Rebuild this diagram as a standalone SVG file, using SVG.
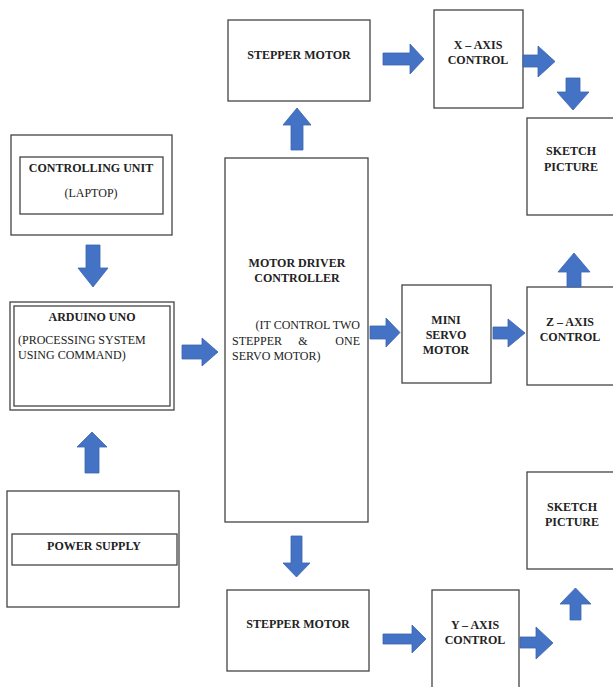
<svg xmlns="http://www.w3.org/2000/svg" width="613" height="687" viewBox="0 0 613 687">
<style>
.box{fill:#fff;stroke:#444;stroke-width:1.3}
.arr{fill:#4472C4;stroke:#3a64b0;stroke-width:0.8}
text{font-family:'Liberation Serif','Times New Roman','DejaVu Serif',serif;font-size:12px;fill:#222}
.b{font-weight:bold;text-anchor:middle}
</style>
<rect width="613" height="687" fill="#fff"/>
<g id="controlling-unit">
<rect class="box" x="11" y="135" width="161" height="100"/>
<rect class="box" x="20" y="157" width="143" height="57"/>
<text class="b" x="91" y="172">CONTROLLING UNIT</text>
<text x="91" y="197" text-anchor="middle">(LAPTOP)</text>
</g>
<g id="arduino-uno">
<rect class="box" x="10" y="302" width="164" height="108"/>
<rect class="box" x="14" y="306" width="156" height="100"/>
<text class="b" x="92" y="321">ARDUINO UNO</text>
<text x="18" y="344">(PROCESSING SYSTEM</text>
<text x="18" y="359">USING COMMAND)</text>
</g>
<g id="power-supply">
<rect class="box" x="7" y="491" width="172" height="116"/>
<rect class="box" x="12" y="534" width="165" height="31"/>
<text class="b" x="94" y="550">POWER SUPPLY</text>
</g>
<g id="motor-driver">
<rect class="box" x="225" y="158" width="143" height="364"/>
<text class="b" x="297" y="267">MOTOR DRIVER</text>
<text class="b" x="297" y="282">CONTROLLER</text>
<text x="360" y="329" text-anchor="end">(IT CONTROL TWO</text>
<text x="232" y="345">STEPPER</text>
<text x="303" y="345" text-anchor="middle">&amp;</text>
<text x="360" y="345" text-anchor="end">ONE</text>
<text x="232" y="360">SERVO MOTOR)</text>
</g>
<g id="stepper-motor-top">
<rect class="box" x="228" y="20" width="142" height="81"/>
<text class="b" x="299" y="59">STEPPER MOTOR</text>
</g>
<g id="x-axis-control">
<rect class="box" x="434" y="10" width="89" height="98"/>
<text class="b" x="478" y="49">X – AXIS</text>
<text class="b" x="478" y="64">CONTROL</text>
</g>
<g id="sketch-picture-top">
<rect class="box" x="527" y="118" width="95" height="97"/>
<text class="b" x="571" y="155">SKETCH</text>
<text class="b" x="571" y="171">PICTURE</text>
</g>
<g id="mini-servo-motor">
<rect class="box" x="402" y="285" width="89" height="98"/>
<text class="b" x="446" y="324">MINI</text>
<text class="b" x="446" y="339">SERVO</text>
<text class="b" x="446" y="354">MOTOR</text>
</g>
<g id="z-axis-control">
<rect class="box" x="527" y="287" width="95" height="98"/>
<text class="b" x="570" y="326">Z – AXIS</text>
<text class="b" x="570" y="341">CONTROL</text>
</g>
<g id="stepper-motor-bottom">
<rect class="box" x="227" y="590" width="142" height="81"/>
<text class="b" x="298" y="628">STEPPER MOTOR</text>
</g>
<g id="y-axis-control">
<rect class="box" x="432" y="590" width="87" height="110"/>
<text class="b" x="475" y="629">Y – AXIS</text>
<text class="b" x="475" y="644">CONTROL</text>
</g>
<g id="sketch-picture-bottom">
<rect class="box" x="527" y="472" width="95" height="97"/>
<text class="b" x="572" y="511">SKETCH</text>
<text class="b" x="572" y="526">PICTURE</text>
</g>
<g id="connectors">
<polygon class="arr" points="86,245 100,245 100,268 108,268 93,287 78,268 86,268"/>
<polygon class="arr" points="85,473 99,473 99,447 107,447 92,432 77,447 85,447"/>
<polygon class="arr" points="182,345 202,345 202,338 218,352 202,366 202,359 182,359"/>
<polygon class="arr" points="291,150 303,150 303,125 311,125 297,108 283,125 291,125"/>
<polygon class="arr" points="291,536 302,536 302,563 310,563 296.5,577 283,563 291,563"/>
<polygon class="arr" points="383,53 410,53 410,44 424,59 410,74 410,65 383,65"/>
<polygon class="arr" points="523,55 538,55 538,46 555,61.5 538,77 538,67 523,67"/>
<polygon class="arr" points="566,78 580,78 580,92 589,92 573,110 557,92 566,92"/>
<polygon class="arr" points="370,326 386,326 386,318 400,332.5 386,347 386,339 370,339"/>
<polygon class="arr" points="493,327 508,327 508,319 525,333 508,347 508,339 493,339"/>
<polygon class="arr" points="567,287 581,287 581,272 590,272 574,253 558,272 567,272"/>
<polygon class="arr" points="383,634 412,634 412,625 426,639 412,653 412,644 383,644"/>
<polygon class="arr" points="520,637 536,637 536,627 553,643 536,659 536,648 520,648"/>
<polygon class="arr" points="570,620 581,620 581,604 591,604 575.5,588 560,604 570,604"/>
</g>
</svg>
